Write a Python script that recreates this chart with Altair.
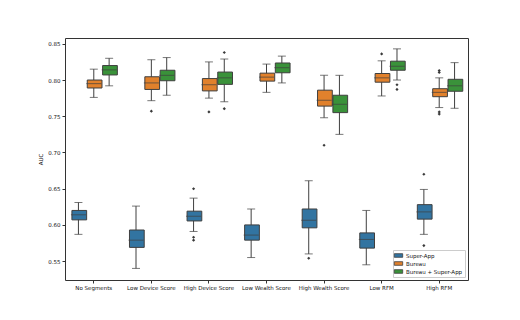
import altair as alt
import pandas as pd

categories = ["No Segments", "Low Device Score", "High Device Score", "Low Wealth Score",
              "High Wealth Score", "Low RFM", "High RFM"]
hues = ["Super-App", "Bureau", "Bureau + Super-App"]
colors = ["#3274a1", "#e1812c", "#3a923a"]

# Super-App
sa_low = [0.587, 0.540, 0.591, 0.555, 0.560, 0.545, 0.587]
sa_q1 = [0.607, 0.569, 0.6055, 0.579, 0.596, 0.568, 0.608]
sa_med = [0.614, 0.579, 0.612, 0.586, 0.6065, 0.580, 0.618]
sa_q3 = [0.620, 0.593, 0.619, 0.600, 0.622, 0.589, 0.628]
sa_high = [0.631, 0.626, 0.637, 0.622, 0.661, 0.620, 0.649]
sa_out = [("High Device Score", 0.650), ("High Device Score", 0.583), ("High Device Score", 0.579),
          ("High Wealth Score", 0.554), ("High RFM", 0.670), ("High RFM", 0.5715)]

# Bureau
bu_low = [0.776, 0.7715, 0.775, 0.783, 0.748, 0.778, 0.762]
bu_q1 = [0.789, 0.787, 0.785, 0.7985, 0.764, 0.797, 0.777]
bu_med = [0.795, 0.796, 0.7935, 0.804, 0.772, 0.803, 0.783]
bu_q3 = [0.800, 0.8045, 0.802, 0.8095, 0.786, 0.809, 0.788]
bu_high = [0.815, 0.828, 0.825, 0.822, 0.8065, 0.8265, 0.803]
bu_out = [("Low Device Score", 0.757), ("High Device Score", 0.756), ("High Wealth Score", 0.710),
          ("Low RFM", 0.836), ("High RFM", 0.813), ("High RFM", 0.8105),
          ("High RFM", 0.756), ("High RFM", 0.753)]

# Bureau + Super-App
bs_low = [0.792, 0.779, 0.770, 0.796, 0.725, 0.800, 0.761]
bs_q1 = [0.807, 0.799, 0.794, 0.810, 0.755, 0.8135, 0.7845]
bs_med = [0.814, 0.8065, 0.803, 0.817, 0.7665, 0.819, 0.792]
bs_q3 = [0.820, 0.8135, 0.811, 0.8235, 0.779, 0.826, 0.801]
bs_high = [0.830, 0.831, 0.829, 0.833, 0.8065, 0.843, 0.824]
bs_out = [("High Device Score", 0.838), ("High Device Score", 0.7605),
          ("Low RFM", 0.7935), ("Low RFM", 0.787)]

rows = []
for hue, lo, q1, md, q3, hi in [
    ("Super-App", sa_low, sa_q1, sa_med, sa_q3, sa_high),
    ("Bureau", bu_low, bu_q1, bu_med, bu_q3, bu_high),
    ("Bureau + Super-App", bs_low, bs_q1, bs_med, bs_q3, bs_high),
]:
    for i, c in enumerate(categories):
        rows.append(dict(cat=c, hue=hue, low=lo[i], q1=q1[i], med=md[i], q3=q3[i], high=hi[i]))
df = pd.DataFrame(rows)

orows = []
for hue, outs in [("Super-App", sa_out), ("Bureau", bu_out), ("Bureau + Super-App", bs_out)]:
    for c, v in outs:
        orows.append(dict(cat=c, hue=hue, v=v))
dfo = pd.DataFrame(orows)

x = alt.X("cat:N", sort=categories, title=None,
          scale=alt.Scale(paddingInner=0, paddingOuter=0),
          axis=alt.Axis(labelAngle=0, labelFontSize=5.5, tickSize=3, labelPadding=2,
                        labelLimit=300, labelOverlap=False,
                        domain=False, ticks=True, tickColor="#333", labelColor="#111"))
xo = alt.XOffset("hue:N", sort=hues, scale=alt.Scale(domain=hues, paddingInner=0, paddingOuter=0.375))
ydom = alt.Scale(domain=[0.524, 0.858], nice=False, zero=False)
yax = alt.Axis(values=[0.55, 0.60, 0.65, 0.70, 0.75, 0.80, 0.85], format=".2f", grid=False,
               labelFontSize=5.5, tickSize=3, labelPadding=2, title="AUC", titleFontSize=5.5,
               titleFontWeight="normal", titlePadding=4, domain=False, tickColor="#333",
               labelColor="#111", titleColor="#111")

base = alt.Chart(df)
line = "#3f3f3f"

whisk = base.mark_rule(color=line, strokeWidth=1).encode(
    x=x, xOffset=xo, y=alt.Y("low:Q", scale=ydom, axis=yax), y2="high:Q")
caps_lo = base.mark_tick(color=line, size=8, thickness=1).encode(x=x, xOffset=xo, y=alt.Y("low:Q", scale=ydom))
caps_hi = base.mark_tick(color=line, size=8, thickness=1).encode(x=x, xOffset=xo, y=alt.Y("high:Q", scale=ydom))
box = base.mark_bar(stroke=line, strokeWidth=1, width={"band": 0.96}).encode(
    x=x, xOffset=xo, y=alt.Y("q1:Q", scale=ydom), y2="q3:Q",
    color=alt.Color("hue:N", sort=hues, scale=alt.Scale(domain=hues, range=colors),
                    legend=alt.Legend(title=None, orient="bottom-right", labelFontSize=5.5,
                                      symbolType="M-1.4,-0.6L1.4,-0.6L1.4,0.6L-1.4,0.6Z",
                                      symbolSize=36, symbolStrokeColor=line, symbolStrokeWidth=0.8,
                                      fillColor="white", strokeColor="#ccc", padding=2,
                                      rowPadding=1, offset=3, labelColor="#111")))
med = base.mark_tick(color=line, size=15, thickness=1).encode(x=x, xOffset=xo, y=alt.Y("med:Q", scale=ydom))
outl = alt.Chart(dfo).mark_point(shape="diamond", filled=True, color="#3a3a3a", size=10, opacity=1).encode(
    x=x, xOffset=xo, y=alt.Y("v:Q", scale=ydom))

chart = alt.layer(whisk, caps_lo, caps_hi, box, med, outl).properties(
    width=403, height=242,
    autosize=alt.AutoSizeParams(type="none"),
    padding={"left": 57, "top": 30, "right": 44, "bottom": 32},
).configure_view(stroke="#333", strokeWidth=1).configure_axis(labelFont="DejaVu Sans", titleFont="DejaVu Sans"
).configure_legend(labelFont="DejaVu Sans")

chart.save("out.html", embed_options={"renderer": "svg", "actions": False})
